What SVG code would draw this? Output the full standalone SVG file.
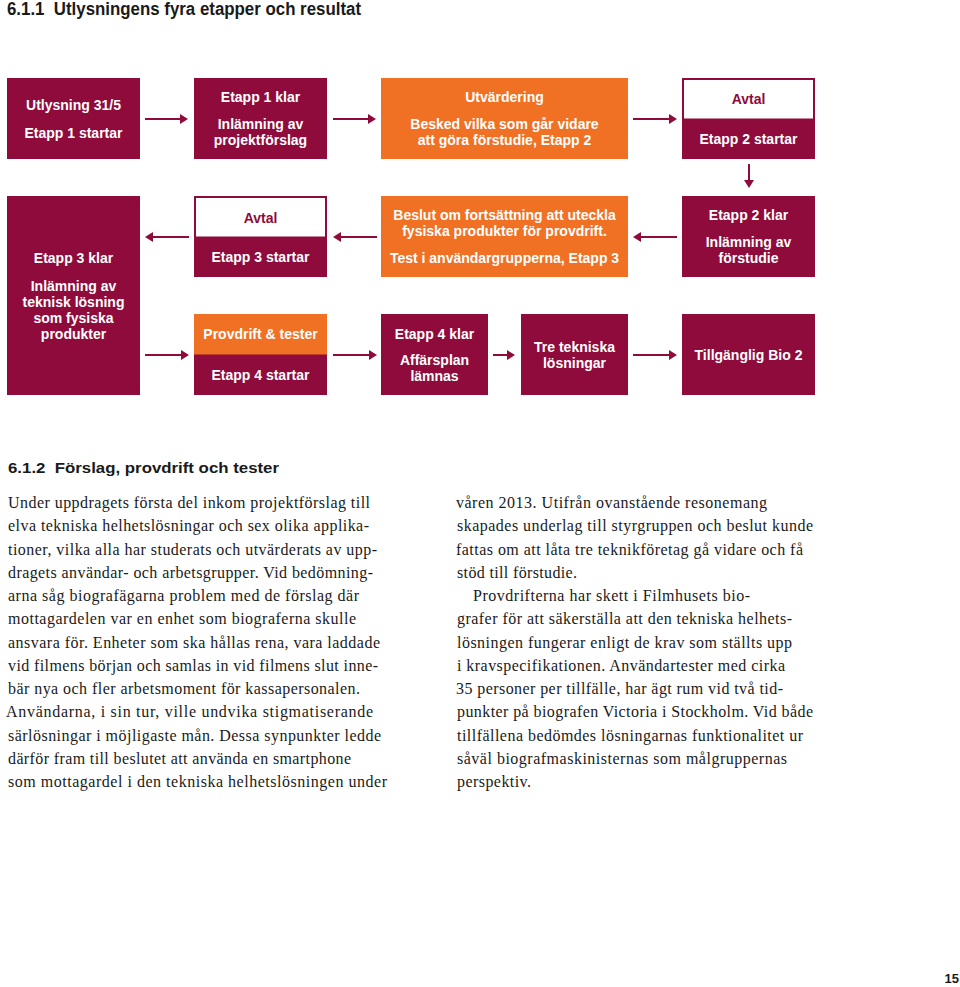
<svg xmlns="http://www.w3.org/2000/svg" width="960" height="987" viewBox="0 0 960 987">
<style>
.m{fill:#8F0B3B}
.o{fill:#F07124}
.w{fill:#FFFFFF}
.bt{font-family:"Liberation Sans",Arial,sans-serif;font-size:14px;font-weight:bold;fill:#FFFFFF;text-anchor:middle}
.btm{font-family:"Liberation Sans",Arial,sans-serif;font-size:14px;font-weight:bold;fill:#8F0B3B;text-anchor:middle}
.h{font-family:"Liberation Sans",Arial,sans-serif;font-weight:bold;fill:#1a1a1a}
.body{font-family:"Liberation Serif","Times New Roman",serif;font-size:16px;fill:#1a1a1a}
.ar{stroke:#8F0B3B;stroke-width:2;fill:none;marker-end:url(#ah)}
</style>
<defs>
<marker id="ah" viewBox="0 0 8 10" refX="0" refY="5" markerWidth="8" markerHeight="10" markerUnits="userSpaceOnUse" orient="auto">
<path d="M0,0 L8,5 L0,10 z" fill="#8F0B3B"/>
</marker>
</defs>
<rect width="960" height="987" fill="#FFFFFF"/>

<text class="h" x="7" y="15" font-size="17.5" textLength="354" lengthAdjust="spacingAndGlyphs">6.1.1&#160; Utlysningens fyra etapper och resultat</text>

<g id="n1">
<rect class="m" x="7" y="78" width="133" height="81"/>
<text class="bt" x="73.5" y="110">Utlysning 31/5</text>
<text class="bt" x="73.5" y="138">Etapp 1 startar</text>
</g>
<g id="n2">
<rect class="m" x="194" y="78" width="133" height="81"/>
<text class="bt" x="260.5" y="102">Etapp 1 klar</text>
<text class="bt" x="260.5" y="129">Inlämning av</text>
<text class="bt" x="260.5" y="145">projektförslag</text>
</g>
<g id="n3">
<rect class="o" x="381" y="78" width="247" height="81"/>
<text class="bt" x="504.5" y="102">Utvärdering</text>
<text class="bt" x="504.5" y="129">Besked vilka som går vidare</text>
<text class="bt" x="504.5" y="145">att göra förstudie, Etapp 2</text>
</g>
<g id="n4">
<rect class="m" x="682" y="78" width="133" height="81"/>
<rect class="w" x="684" y="80" width="129" height="38.5"/>
<text class="btm" x="748.5" y="104">Avtal</text>
<text class="bt" x="748.5" y="144">Etapp 2 startar</text>
</g>

<g id="n5">
<rect class="m" x="7" y="196" width="133" height="199"/>
<text class="bt" x="73.5" y="263">Etapp 3 klar</text>
<text class="bt" x="73.5" y="290.5">Inlämning av</text>
<text class="bt" x="73.5" y="306.5">teknisk lösning</text>
<text class="bt" x="73.5" y="322.5">som fysiska</text>
<text class="bt" x="73.5" y="338.5">produkter</text>
</g>
<g id="n6">
<rect class="m" x="194" y="196" width="133" height="81"/>
<rect class="w" x="196" y="198" width="129" height="38.5"/>
<text class="btm" x="260.5" y="222.5">Avtal</text>
<text class="bt" x="260.5" y="261.5">Etapp 3 startar</text>
</g>
<g id="n7">
<rect class="o" x="381" y="196" width="247" height="81"/>
<text class="bt" x="504.5" y="220">Beslut om fortsättning att uteckla</text>
<text class="bt" x="504.5" y="236">fysiska produkter för provdrift.</text>
<text class="bt" x="504.5" y="263">Test i användargrupperna, Etapp 3</text>
</g>
<g id="n8">
<rect class="m" x="682" y="196" width="133" height="81"/>
<text class="bt" x="748.5" y="220">Etapp 2 klar</text>
<text class="bt" x="748.5" y="247">Inlämning av</text>
<text class="bt" x="748.5" y="263">förstudie</text>
</g>

<g id="n9">
<rect class="m" x="194" y="314" width="133" height="81"/>
<rect class="o" x="194" y="314" width="133" height="40.5"/>
<text class="bt" x="260.5" y="339">Provdrift &amp; tester</text>
<text class="bt" x="260.5" y="380">Etapp 4 startar</text>
</g>
<g id="n10">
<rect class="m" x="381" y="314" width="107" height="81"/>
<text class="bt" x="434.5" y="338.5">Etapp 4 klar</text>
<text class="bt" x="434.5" y="365">Affärsplan</text>
<text class="bt" x="434.5" y="381">lämnas</text>
</g>
<g id="n11">
<rect class="m" x="521" y="314" width="107" height="81"/>
<text class="bt" x="574.5" y="352">Tre tekniska</text>
<text class="bt" x="574.5" y="368">lösningar</text>
</g>
<g id="n12">
<rect class="m" x="682" y="314" width="133" height="81"/>
<text class="bt" x="748.5" y="360">Tillgänglig Bio 2</text>
</g>

<g id="connectors">
<line class="ar" x1="145" y1="119" x2="180" y2="119"/>
<line class="ar" x1="333" y1="119" x2="368" y2="119"/>
<line class="ar" x1="633" y1="119" x2="669" y2="119"/>
<line class="ar" x1="749" y1="164" x2="749" y2="180"/>
<line class="ar" x1="189" y1="237" x2="153" y2="237"/>
<line class="ar" x1="377" y1="237" x2="341" y2="237"/>
<line class="ar" x1="677" y1="237" x2="641" y2="237"/>
<line class="ar" x1="145" y1="355" x2="181" y2="355"/>
<line class="ar" x1="333" y1="355" x2="369" y2="355"/>
<line class="ar" x1="493" y1="355" x2="507" y2="355"/>
<line class="ar" x1="633" y1="355" x2="669" y2="355"/>
</g>

<text class="h" x="8" y="473" font-size="15" textLength="271" lengthAdjust="spacingAndGlyphs">6.1.2&#160; Förslag, provdrift och tester</text>

<g class="body">
<text x="8" y="508" textLength="362" lengthAdjust="spacing">Under uppdragets första del inkom projektförslag till</text>
<text x="8" y="531.25" textLength="361" lengthAdjust="spacing">elva tekniska helhetslösningar och sex olika applika-</text>
<text x="8" y="554.5" textLength="369" lengthAdjust="spacing">tioner, vilka alla har studerats och utvärderats av upp-</text>
<text x="8" y="577.75" textLength="365" lengthAdjust="spacing">dragets användar- och arbetsgrupper. Vid bedömning-</text>
<text x="8" y="601" textLength="351" lengthAdjust="spacing">arna såg biografägarna problem med de förslag där</text>
<text x="8" y="624.25" textLength="348" lengthAdjust="spacing">mottagardelen var en enhet som biograferna skulle</text>
<text x="8" y="647.5" textLength="372" lengthAdjust="spacing">ansvara för. Enheter som ska hållas rena, vara laddade</text>
<text x="8" y="670.75" textLength="370" lengthAdjust="spacing">vid filmens början och samlas in vid filmens slut inne-</text>
<text x="8" y="694" textLength="352" lengthAdjust="spacing">bär nya och fler arbetsmoment för kassapersonalen.</text>
<text x="6" y="717.25" textLength="367" lengthAdjust="spacing">Användarna, i sin tur, ville undvika stigmatiserande</text>
<text x="8" y="740.5" textLength="373" lengthAdjust="spacing">särlösningar i möjligaste mån. Dessa synpunkter ledde</text>
<text x="8" y="763.75" textLength="343" lengthAdjust="spacing">därför fram till beslutet att använda en smartphone</text>
<text x="8" y="787" textLength="379" lengthAdjust="spacing">som mottagardel i den tekniska helhetslösningen under</text>

<text x="456" y="508" textLength="311" lengthAdjust="spacing">våren 2013. Utifrån ovanstående resonemang</text>
<text x="457" y="531.25" textLength="356" lengthAdjust="spacing">skapades underlag till styrgruppen och beslut kunde</text>
<text x="456" y="554.5" textLength="347" lengthAdjust="spacing">fattas om att låta tre teknikföretag gå vidare och få</text>
<text x="457" y="577.75" textLength="120" lengthAdjust="spacing">stöd till förstudie.</text>
<text x="473" y="601" textLength="277" lengthAdjust="spacing">Provdrifterna har skett i Filmhusets bio-</text>
<text x="457" y="624.25" textLength="335" lengthAdjust="spacing">grafer för att säkerställa att den tekniska helhets-</text>
<text x="457" y="647.5" textLength="335" lengthAdjust="spacing">lösningen fungerar enligt de krav som ställts upp</text>
<text x="457" y="670.75" textLength="328" lengthAdjust="spacing">i kravspecifikationen. Användartester med cirka</text>
<text x="456" y="694" textLength="327" lengthAdjust="spacing">35 personer per tillfälle, har ägt rum vid två tid-</text>
<text x="457" y="717.25" textLength="356" lengthAdjust="spacing">punkter på biografen Victoria i Stockholm. Vid både</text>
<text x="457" y="740.5" textLength="346" lengthAdjust="spacing">tillfällena bedömdes lösningarnas funktionalitet ur</text>
<text x="457" y="763.75" textLength="330" lengthAdjust="spacing">såväl biografmaskinisternas som målgruppernas</text>
<text x="457" y="787" textLength="74" lengthAdjust="spacing">perspektiv.</text>
</g>

<text class="h" x="959" y="983" font-size="13" text-anchor="end">15</text>
</svg>
